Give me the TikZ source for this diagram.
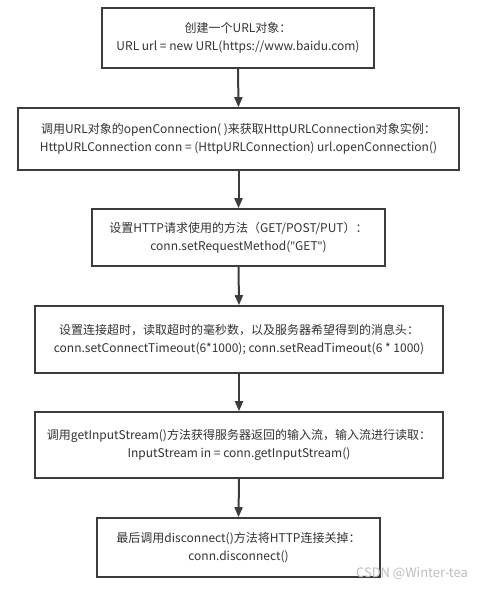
\documentclass[tikz,border=0pt]{standalone}
\usepackage{fontspec}
\setmainfont{Noto Sans CJK SC}
\newfontfamily\latinq{Noto Sans}
\usetikzlibrary{arrows.meta}
\definecolor{edge}{HTML}{3C3C3C}
\definecolor{txt}{HTML}{333333}
\newcommand{\dq}{{\latinq"}}
\tikzset{
  stepbox/.style={draw=edge, line width=1.6pt, fill=white, inner sep=0pt, align=center, text=txt, font=\fontsize{12}{17.5}\selectfont},
  flow/.style={draw=edge, line width=2pt, -{Triangle[length=10pt,width=8pt]}},
}
\begin{document}
\begin{tikzpicture}[x=1pt,y=-1pt]
\useasboundingbox (0,0) rectangle (486,591);
\fill[white] (0,0) rectangle (486,591);
\node[stepbox, minimum width=272pt, minimum height=60pt] (b1) at (238,38) {创建一个URL对象：\\URL url = new URL(https://www.baidu.com)};
\node[stepbox, minimum width=441pt, minimum height=62pt] (b2) at (238.5,139) {调用URL对象的openConnection( )来获取HttpURLConnection对象实例：\\HttpURLConnection conn = (HttpURLConnection) url.openConnection()};
\node[stepbox, minimum width=293pt, minimum height=57pt] (b3) at (238.5,237.5) {设置HTTP请求使用的方法（GET/POST/PUT）：\\conn.setRequestMethod(\dq GET\dq)};
\node[stepbox, minimum width=408pt, minimum height=67pt] (b4) at (239,339.5) {设置连接超时，读取超时的毫秒数，以及服务器希望得到的消息头：\\conn.setConnectTimeout(6*1000); conn.setReadTimeout(6 * 1000)};
\node[stepbox, minimum width=408pt, minimum height=66pt] (b5) at (239,445) {调用getInputStream()方法获得服务器返回的输入流，输入流进行读取：\\InputStream in = conn.getInputStream()};
\node[stepbox, minimum width=283pt, minimum height=59pt] (b6) at (238.5,547.5) {最后调用disconnect()方法将HTTP连接关掉：\\conn.disconnect()};
\draw[flow] (b1.south) -- (b2.north);
\draw[flow] (b2.south) -- (b3.north);
\draw[flow] (b3.south) -- (b4.north);
\draw[flow] (b4.south) -- (b5.north);
\draw[flow] (b5.south) -- (b6.north);
\node[text=black!25, font=\fontsize{13}{14}\selectfont, anchor=center] (wm) at (412,574) {CSDN @Winter-tea};
\end{tikzpicture}
\end{document}
